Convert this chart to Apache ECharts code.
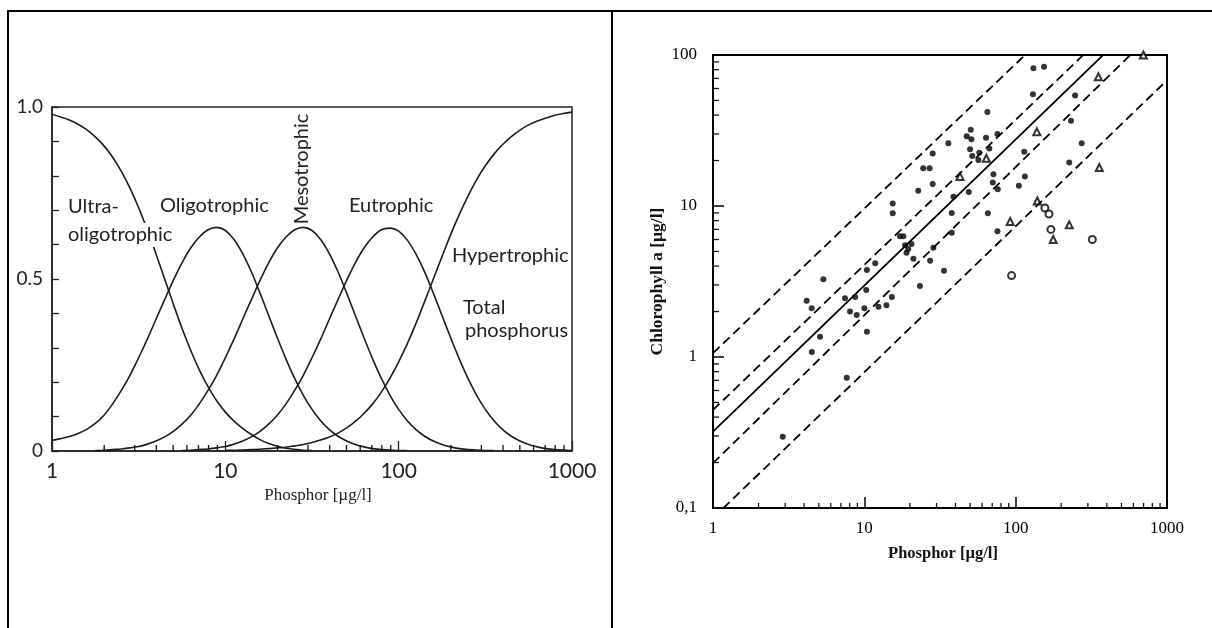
<!DOCTYPE html>
<html>
<head>
<meta charset="utf-8">
<title>Trophic state / chlorophyll vs phosphorus</title>
<script src="https://cdn.jsdelivr.net/npm/echarts@6/dist/echarts.min.js"></script>
<style>
html,body{margin:0;padding:0;background:#fff;}
.rule{position:absolute;background:#000;}
#chart{position:absolute;left:0;top:0;width:1212px;height:628px;}
</style>
</head>
<body>
<!-- table frame round the two pictures -->
<div class="rule" style="left:7px;top:10px;width:1205px;height:2px"></div>
<div class="rule" style="left:7px;top:10px;width:2px;height:618px"></div>
<div class="rule" style="left:611px;top:10px;width:2px;height:618px"></div>
<div id="chart"></div>
<script>
// ---- left picture: trophic membership curves over total phosphorus ----
// phosphorus read every 0.05 decade
const phosphorGrid = [1, 1.122, 1.259, 1.413, 1.585, 1.778, 1.995, 2.239, 2.512, 2.818,
  3.162, 3.548, 3.981, 4.467, 5.012, 5.623, 6.31, 7.079, 7.943, 8.913,
  10, 11.22, 12.59, 14.13, 15.85, 17.78, 19.95, 22.39, 25.12, 28.18,
  31.62, 35.48, 39.81, 44.67, 50.12, 56.23, 63.1, 70.79, 79.43, 89.13,
  100, 112.2, 125.9, 141.3, 158.5, 177.8, 199.5, 223.9, 251.2, 281.8,
  316.2, 354.8, 398.1, 446.7, 501.2, 562.3, 631, 707.9, 794.3, 891.3, 1000];
const ultraOligotrophic = [0.979, 0.971, 0.962, 0.950, 0.934, 0.913, 0.887, 0.854, 0.813, 0.764,
  0.707, 0.643, 0.573, 0.5, 0.427, 0.357, 0.293, 0.236, 0.187, 0.146,
  0.113, 0.087, 0.066, 0.048, 0.033, 0.022, 0.014, 0.008, 0.005, 0.002,
  0.001, null, null, null, null, null, null, null, null, null,
  null, null, null, null, null, null, null, null, null, null,
  null, null, null, null, null, null, null, null, null, null, null];
const oligotrophic = [0.031, 0.036, 0.042, 0.051, 0.063, 0.080, 0.104, 0.137, 0.176, 0.220,
  0.271, 0.325, 0.383, 0.440, 0.496, 0.547, 0.590, 0.622, 0.643, 0.650,
  0.641, 0.615, 0.574, 0.521, 0.459, 0.394, 0.329, 0.267, 0.211, 0.162,
  0.121, 0.088, 0.062, 0.043, 0.029, 0.019, 0.012, 0.007, 0.004, 0.003,
  0.001, 0.001, null, null, null, null, null, null, null, null,
  null, null, null, null, null, null, null, null, null, null, null];
const mesotrophic = [null, null, null, null, null, 0.001, 0.002, 0.004, 0.006, 0.009,
  0.013, 0.020, 0.029, 0.041, 0.057, 0.078, 0.104, 0.137, 0.176, 0.220,
  0.271, 0.325, 0.383, 0.440, 0.496, 0.547, 0.590, 0.622, 0.643, 0.650,
  0.641, 0.615, 0.574, 0.521, 0.459, 0.394, 0.329, 0.267, 0.211, 0.162,
  0.121, 0.088, 0.062, 0.043, 0.029, 0.019, 0.012, 0.007, 0.004, 0.003,
  0.001, 0.001, null, null, null, null, null, null, null, null, null];
const eutrophic = [null, null, null, null, null, null, null, null, null, null,
  null, null, null, null, null, 0.001, 0.002, 0.004, 0.006, 0.009,
  0.013, 0.020, 0.029, 0.041, 0.057, 0.078, 0.104, 0.137, 0.176, 0.220,
  0.271, 0.325, 0.383, 0.440, 0.496, 0.547, 0.590, 0.622, 0.643, 0.648,
  0.639, 0.613, 0.572, 0.520, 0.459, 0.394, 0.329, 0.267, 0.211, 0.162,
  0.121, 0.088, 0.062, 0.043, 0.029, 0.019, 0.012, 0.007, 0.004, 0.003, 0.001];
const hypertrophic = [null, null, null, null, null, null, null, null, null, null,
  null, null, null, null, null, null, null, null, null, null,
  0.002, 0.002, 0.003, 0.004, 0.005, 0.007, 0.009, 0.011, 0.015, 0.019,
  0.025, 0.032, 0.041, 0.052, 0.067, 0.086, 0.109, 0.137, 0.171, 0.212,
  0.259, 0.312, 0.371, 0.435, 0.5, 0.565, 0.629, 0.688, 0.741, 0.789,
  0.829, 0.863, 0.891, 0.914, 0.933, 0.948, 0.959, 0.968, 0.976, 0.981, 0.985];
const leftYTickValues = [0, 0.5, 1];
const leftYTickLabels = ['0', '0.5', '1.0'];
const decadeTickValues = [1, 10, 100, 1000];
const decadeTickLabels = ['1', '10', '100', '1000'];
const xMinorTicks = [2, 3, 4, 5, 6, 7, 8, 9, 20, 30, 40, 50, 60, 70, 80, 90, 200, 300, 400, 500, 600, 700, 800, 900];

// ---- right picture: chlorophyll a vs phosphorus ----
const chlDots = [[15.4, 10.4], [15.4, 8.95], [5.36, 3.27], [4.16, 2.36], [4.49, 2.1], [17.2, 6.3],
  [8.04, 2.0], [8.9, 1.9], [10, 2.1], [12.4, 2.15], [14, 2.2], [15.2, 2.5], [5.1, 1.36], [4.5, 1.08],
  [7.65, 0.73], [2.89, 0.296], [10.4, 1.47], [7.45, 2.45], [8.7, 2.5], [10.3, 2.78], [11.8, 4.17],
  [10.4, 3.77], [18.1, 6.3], [18.6, 5.5], [131, 81.6], [154, 83.7], [130, 55], [65, 42], [50.5, 32],
  [51, 27.7], [47.5, 29], [63.7, 28.3], [75.8, 30], [35.9, 26], [50, 23.8], [51.7, 21.4], [57.5, 22.5],
  [67, 24], [114, 22.9], [56.7, 20.2], [28.3, 22.3], [24.5, 17.8], [27, 17.8], [28.3, 14], [22.7, 12.6],
  [71.3, 16.2], [70.6, 14.3], [76.2, 12.9], [115, 15.7], [105, 13.6], [232, 36.7], [273, 26], [226, 19.4],
  [65.5, 8.95], [37.8, 9.0], [37.8, 6.65], [28.6, 5.3], [27.2, 4.34], [21.1, 4.48], [33.6, 3.73],
  [23.3, 2.95], [75.8, 6.8], [19.5, 5.2], [20.5, 5.6], [19, 4.9], [38.8, 11.5], [49, 12.4], [247, 54]];
const chlTriangles = [[42.9, 15.7], [138, 31], [357, 18], [698, 100], [139, 10.8], [226, 7.5],
  [177, 6.0], [92, 7.9], [64, 20.7], [352, 71.8]];
const chlCircles = [[156, 9.7], [166, 8.85], [171, 7.0], [321, 6.0], [94, 3.46]];
const fitOuterUpper = [[1, 1.06], [1000, 792]];
const fitInnerUpper = [[1, 0.446], [1000, 340]];
const fitMain = [[1, 0.32], [1000, 256]];
const fitInnerLower = [[1, 0.198], [1000, 173]];
const fitOuterLower = [[1, 0.0857], [1000, 68]];
const chlTickValues = [0.1, 1, 10, 100];
const chlTickLabels = ['0,1', '1', '10', '100'];
const chlMinorTicks = [0.2, 0.3, 0.4, 0.5, 0.6, 0.7, 0.8, 0.9, 2, 3, 4, 5, 6, 7, 8, 9, 20, 30, 40, 50, 60, 70, 80, 90];

const chart = echarts.init(document.getElementById('chart'));

function pick(values, labels, v, isLog) {
  for (let i = 0; i < values.length; i++) {
    const d = isLog ? Math.abs(Math.log10(v) - Math.log10(values[i])) : Math.abs(v - values[i]);
    if (d < 1e-6) return labels[i];
  }
  return '';
}
function curve(ys) {
  return phosphorGrid.map((x, i) => [x, ys[i]]).filter(p => p[1] !== null);
}
// short inward ticks drawn through the axis scales
function minorTicks(xi, yi, pts, vertical, len) {
  return {
    type: 'custom', xAxisIndex: xi, yAxisIndex: yi, silent: true, z: 6, data: pts,
    renderItem: function (params, api) {
      const p = api.coord([api.value(0), api.value(1)]);
      return {
        type: 'line',
        shape: vertical ? {x1: p[0], y1: p[1], x2: p[0], y2: p[1] - len} : {x1: p[0], y1: p[1], x2: p[0] + len, y2: p[1]},
        style: {stroke: '#111', lineWidth: 1.3}
      };
    }
  };
}
const sans = 'Lato';
const serif = 'Liberation Serif';
const curveStyle = {color: '#1c1c1c', width: 1.6};
const dashed = {color: '#000', width: 1.8, type: [9, 5]};

const option = {
  animation: false,
  grid: [
    {left: 52, top: 107, width: 520, height: 344, show: true, borderColor: '#222', borderWidth: 1.5, outerBoundsMode: 'none'},
    {left: 713, top: 55, width: 454, height: 453, show: true, borderColor: '#000', borderWidth: 2, outerBoundsMode: 'none'}
  ],
  xAxis: [
    {
      type: 'log', gridIndex: 0, min: 1, max: 1000, logBase: 10,
      axisLine: {lineStyle: {color: '#222', width: 1.6}},
      axisTick: {inside: true, length: 10, lineStyle: {color: '#222', width: 1.3}},
      axisLabel: {margin: 10, fontFamily: sans, fontSize: 21, color: '#222',
        formatter: v => pick(decadeTickValues, decadeTickLabels, v, true)},
      splitLine: {show: false},
      name: 'Phosphor [\u00b5g/l]', nameLocation: 'middle', nameGap: 35,
      nameTextStyle: {fontFamily: serif, fontSize: 17, color: '#222', padding: [0, 0, 0, 12]}
    },
    {
      type: 'log', gridIndex: 1, min: 1, max: 1000, logBase: 10,
      axisLine: {lineStyle: {color: '#000', width: 2}},
      axisTick: {inside: true, length: 11, lineStyle: {color: '#000', width: 1.5}},
      axisLabel: {margin: 12, fontFamily: serif, fontSize: 17, color: '#000',
        formatter: v => pick(decadeTickValues, decadeTickLabels, v, true)},
      splitLine: {show: false},
      name: 'Phosphor [\u00b5g/l]', nameLocation: 'middle', nameGap: 37,
      nameTextStyle: {fontFamily: serif, fontSize: 16.5, fontWeight: 'bold', color: '#111', padding: [0, 0, 0, 6]}
    }
  ],
  yAxis: [
    {
      type: 'value', gridIndex: 0, min: 0, max: 1, interval: 0.1,
      axisLine: {show: true, lineStyle: {color: '#222', width: 1.6}},
      axisTick: {show: true, inside: true, length: 7, lineStyle: {color: '#222', width: 1.3}},
      axisLabel: {margin: 9, fontFamily: sans, fontSize: 19, color: '#222',
        formatter: v => pick(leftYTickValues, leftYTickLabels, v, false)},
      splitLine: {show: false}
    },
    {
      type: 'log', gridIndex: 1, min: 0.1, max: 100, logBase: 10,
      axisLine: {show: true, lineStyle: {color: '#000', width: 2}},
      axisTick: {show: true, inside: true, length: 11, lineStyle: {color: '#000', width: 1.5}},
      axisLabel: {margin: 16, fontFamily: serif, fontSize: 17, color: '#000',
        formatter: v => pick(chlTickValues, chlTickLabels, v, true)},
      splitLine: {show: false},
      name: 'Chlorophyll a [\u00b5g/l]', nameLocation: 'middle', nameGap: 47,
      nameTextStyle: {fontFamily: serif, fontSize: 17.5, fontWeight: 'bold', color: '#111'}
    }
  ],
  graphic: [
    {type: 'text', x: 68, y: 207, z: 100, style: {text: 'Ultra-', font: '20px ' + sans, fill: '#222', verticalAlign: 'middle'}},
    {type: 'text', x: 67, y: 235, z: 100, style: {text: 'oligotrophic', font: '20px ' + sans, fill: '#222', verticalAlign: 'middle', backgroundColor: '#fff', padding: [1, 2, 3, 1]}},
    {type: 'text', x: 160, y: 206, z: 100, style: {text: 'Oligotrophic', font: '20px ' + sans, fill: '#222', verticalAlign: 'middle'}},
    {type: 'text', x: 302, y: 169, rotation: Math.PI / 2, z: 100, style: {text: 'Mesotrophic', font: '20px ' + sans, fill: '#222', align: 'center', verticalAlign: 'middle'}},
    {type: 'text', x: 349, y: 206, z: 100, style: {text: 'Eutrophic', font: '20px ' + sans, fill: '#222', verticalAlign: 'middle'}},
    {type: 'text', x: 452, y: 256, z: 100, style: {text: 'Hypertrophic', font: '20px ' + sans, fill: '#222', verticalAlign: 'middle'}},
    {type: 'text', x: 463, y: 308, z: 100, style: {text: 'Total', font: '20px ' + sans, fill: '#222', verticalAlign: 'middle'}},
    {type: 'text', x: 465, y: 331, z: 100, style: {text: 'phosphorus', font: '20px ' + sans, fill: '#222', verticalAlign: 'middle'}}
  ],
  series: [
    {type: 'line', xAxisIndex: 0, yAxisIndex: 0, data: curve(ultraOligotrophic), smooth: 0.3, showSymbol: false, lineStyle: curveStyle},
    {type: 'line', xAxisIndex: 0, yAxisIndex: 0, data: curve(oligotrophic), smooth: 0.3, showSymbol: false, lineStyle: curveStyle},
    {type: 'line', xAxisIndex: 0, yAxisIndex: 0, data: curve(mesotrophic), smooth: 0.3, showSymbol: false, lineStyle: curveStyle},
    {type: 'line', xAxisIndex: 0, yAxisIndex: 0, data: curve(eutrophic), smooth: 0.3, showSymbol: false, lineStyle: curveStyle},
    {type: 'line', xAxisIndex: 0, yAxisIndex: 0, data: curve(hypertrophic), smooth: 0.3, showSymbol: false, lineStyle: curveStyle},
    minorTicks(0, 0, xMinorTicks.map(v => [v, 0]), true, 6),

    {type: 'line', xAxisIndex: 1, yAxisIndex: 1, data: fitOuterUpper, showSymbol: false, clip: true, lineStyle: dashed},
    {type: 'line', xAxisIndex: 1, yAxisIndex: 1, data: fitInnerUpper, showSymbol: false, clip: true, lineStyle: dashed},
    {type: 'line', xAxisIndex: 1, yAxisIndex: 1, data: fitMain, showSymbol: false, clip: true, lineStyle: {color: '#000', width: 1.8}},
    {type: 'line', xAxisIndex: 1, yAxisIndex: 1, data: fitInnerLower, showSymbol: false, clip: true, lineStyle: dashed},
    {type: 'line', xAxisIndex: 1, yAxisIndex: 1, data: fitOuterLower, showSymbol: false, clip: true, lineStyle: dashed},
    {type: 'scatter', xAxisIndex: 1, yAxisIndex: 1, data: chlDots, symbol: 'circle', symbolSize: 6, itemStyle: {color: '#000'}},
    {type: 'scatter', xAxisIndex: 1, yAxisIndex: 1, data: chlTriangles, symbol: 'emptyTriangle', symbolSize: 7, itemStyle: {color: '#000', borderWidth: 1.2}},
    {type: 'scatter', xAxisIndex: 1, yAxisIndex: 1, data: chlCircles, symbol: 'emptyCircle', symbolSize: 7, itemStyle: {color: '#000', borderWidth: 1.2}},
    minorTicks(1, 1, xMinorTicks.map(v => [v, 0.1]), true, 5),
    minorTicks(1, 1, chlMinorTicks.map(v => [1, v]), false, 6)
  ]
};
chart.setOption(option);
</script>
</body>
</html>
